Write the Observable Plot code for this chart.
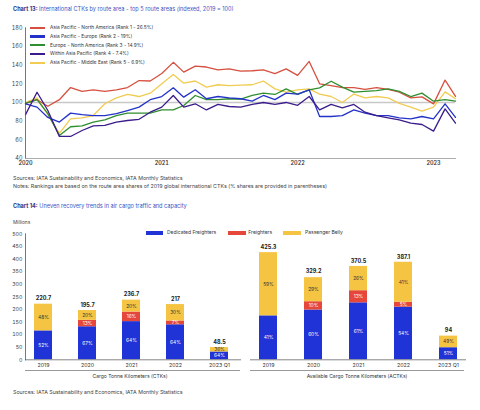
<!DOCTYPE html>
<html><head><meta charset="utf-8">
<script src="https://cdn.jsdelivr.net/npm/d3@7"></script>
<script src="https://cdn.jsdelivr.net/npm/@observablehq/plot@0.6"></script>
<style>
body{margin:0;background:#fff;font-family:Inter,"Noto Sans",sans-serif;}
#root{position:relative;width:480px;height:410px;overflow:hidden;background:#fff;}
.t{position:absolute;white-space:nowrap;line-height:1;}
.abs{position:absolute;}
svg{overflow:visible;}
</style></head><body><div id="root"></div>
<script>
// ---------- Chart 13 data ----------
const routeNames = [
  "Asia Pacific - North America (Rank 1 - 26.5%)",
  "Asia Pacific - Europe (Rank 2 - 19%)",
  "Europe - North America (Rank 3 - 14.9%)",
  "Within Asia Pacific (Rank 4 - 7.4%)",
  "Asia Pacific - Middle East (Rank 5 - 6.9%)"
];
const routeColors = ["#d6503f", "#2332c8", "#2f8e2f", "#3a1c8a", "#f1cc52"];
const months = d3.utcMonth.range(new Date(Date.UTC(2020,0,1)), new Date(Date.UTC(2023,3,1)));
const apNorthAmerica = [99,103,96,103,116,112,113.5,112,113.5,116,123.5,123,131,143,132.5,139,138,135,136,133.5,134,135,131,136,129,144,120,118,116,116,114,116,114,111,105,106,98.5,124,106.5];
const apEurope = [98.6,95,84,79,88.6,87,86,86,88,91.4,95,103,106.4,115.7,105.7,113.6,104,106.4,105,104,101.4,107.5,103,110,109,113.6,85,85,86,92,88.6,86,86,83.6,82.5,85,82.5,98.6,84];
const europeNorthAmerica = [99,103,88,64.6,74,75,79,81.4,86,88.6,88.6,88.6,92,92,96.8,107.5,103,103,104,103.6,107.5,110,108.6,114.6,108.6,113.6,115.7,122.8,116.4,111,112,112.8,114.6,112,106.4,110,101.4,103,101.4];
const withinAsiaPacific = [87,111,91.4,63.6,63.6,70,75,75.4,79,80.7,82,89.6,95,107.5,95,98.6,92,97.9,95.7,95,97.9,100,97.9,100,97,106.4,92,97.9,94.3,97.9,89.6,86,83.6,81.4,77.9,76.4,69.3,93.2,77.9];
const apMiddleEast = [100,105,87,67,82.5,83.5,86,98.6,105,108.6,106.4,110,120,130,120.7,123,116.4,119,118,118.6,119,123,114.6,111,113.6,114.6,109,106.4,100,109,105,106.4,105,99,95,90.7,95,111.4,104];
const yTicks13 = [40,60,80,100,120,140,160,180];

// ---------- Chart 14 data ----------
const years = ["2019","2020","2021","2022","2023 Q1"];
const segNames = ["Dedicated Freighters","Freighters","Passenger Belly"];
const segColors = ["#1f33d6","#e5473a","#f5c443"];
const ctkTotal = [220.7,195.7,236.7,217,48.5];
const ctkDedicated = [52,67,64,64,64];
const ctkFreighters = [0,13,16,7,0];
const ctkBelly = [48,20,20,30,36];
const actkTotal = [425.3,329.2,370.5,387.1,94];
const actkDedicated = [41,60,61,54,51];
const actkFreighters = [0,10,13,5,0];
const actkBelly = [59,29,26,41,49];
const yTicks14 = [0,50,100,150,200,250,300,350,400,450,500];

const root = document.getElementById("root");
function txt(x, y, html, size, color, weight, anchor){
  const d = document.createElement("div");
  d.className = "t";
  d.innerHTML = html;
  d.style.fontSize = size + "px";
  d.style.color = color;
  d.style.fontWeight = weight || 400;
  d.style.top = (y - size*0.55) + "px";
  if (anchor === "middle") { d.style.left = x + "px"; d.style.transform = "translateX(-50%)"; }
  else d.style.left = x + "px";
  root.appendChild(d);
  return d;
}
function box(x, y, w, h, color){
  const d = document.createElement("div");
  d.className = "abs";
  Object.assign(d.style, {left:x+"px", top:y+"px", width:w+"px", height:h+"px", background:color});
  root.appendChild(d);
}
function place(el, x, y){
  el.style.position = "absolute"; el.style.left = x+"px"; el.style.top = y+"px";
  root.appendChild(el);
}

// ---------- Chart 13 ----------
txt(13, 10, '<span style="color:#27348f;font-weight:700">Chart 13:</span> <span style="color:#3a55c4">International CTKs by route area - top 5 route areas (indexed, 2019 = 100)</span>', 5.6, "#3a55c4");

const series = [apNorthAmerica, apEurope, europeNorthAmerica, withinAsiaPacific, apMiddleEast];
const lineData = [];
series.forEach((vals, s) => vals.forEach((v, i) => lineData.push({date: months[i], value: v, route: routeNames[s]})));
const drawOrder = [routeNames[4], routeNames[0], routeNames[2], routeNames[1], routeNames[3]];

const chart13 = Plot.plot({
  width: 470, height: 152,
  marginTop: 7.3, marginLeft: 25, marginRight: 15, marginBottom: 14,
  style: {fontFamily: "Inter, sans-serif", background: "transparent", overflow: "visible"},
  x: {type: "utc", domain: [months[0], months[months.length-1]]},
  y: {domain: [40, 180]},
  color: {domain: routeNames, range: routeColors},
  marks: [
    Plot.ruleY([100], {stroke: "#c8c8c8", strokeWidth: 1.6}),
    ...drawOrder.map(r => Plot.line(lineData.filter(d => d.route === r), {x: "date", y: "value", stroke: "route", strokeWidth: 1.3})),
    Plot.frame({anchor: "left", stroke: "#555", strokeWidth: 0.8}),
    Plot.frame({anchor: "bottom", stroke: "#999", strokeWidth: 0.8}),
    Plot.axisY({ticks: yTicks13, tickSize: 0, tickPadding: 3, fontSize: 5.5, fill: "#444", label: null}),
    Plot.axisX({ticks: d3.utcYear.every(1), tickFormat: d3.utcFormat("%Y"), tickSize: 0, tickPadding: 3, fontSize: 5.5, fill: "#333", fontWeight: 600, label: null})
  ]
});
place(chart13, 0, 20);

// legend 13
const legY = [27.7, 36.4, 45.2, 54, 62.7];
routeNames.forEach((n, i) => {
  box(30, legY[i]-1.2, 15, 2.4, routeColors[i]);
  txt(50, legY[i], n, 4.8, "#333");
});

txt(13, 178.5, "Sources: IATA Sustainability and Economics, IATA Monthly Statistics", 5.3, "#444");
txt(13, 187, "Notes: Rankings are based on the route area shares of 2019 global international CTKs (% shares are provided in parentheses)", 5.3, "#444");

// ---------- Chart 14 ----------
txt(13, 206.7, '<span style="color:#27348f;font-weight:700">Chart 14:</span> <span style="color:#3a55c4">Uneven recovery trends in air cargo traffic and capacity</span>', 5.6, "#3a55c4");
txt(13, 223, "Millions", 4.8, "#444");

function rows(total, dedicated, freighters, belly){
  const out = [];
  years.forEach((y, i) => {
    [[segNames[0], dedicated[i]], [segNames[1], freighters[i]], [segNames[2], belly[i]]].forEach(([s, p]) => {
      if (p > 0) out.push({cat: y, series: s, pct: p, value: total[i] * p / 100});
    });
  });
  return out;
}
function barChart(total, dedicated, freighters, belly, opts){
  const data = rows(total, dedicated, freighters, belly);
  const totals = years.map((y, i) => ({cat: y, total: total[i]}));
  const stackOpts = {x: "cat", y: "value", z: "series", order: segNames};
  return Plot.plot({
    width: opts.width, height: 157,
    marginTop: 5.3, marginBottom: 25.7, marginLeft: opts.ml, marginRight: opts.mr,
    style: {fontFamily: "Inter, sans-serif", background: "transparent", overflow: "visible"},
    x: {domain: years, range: opts.range, paddingInner: 0.6, paddingOuter: 0.3},
    y: {domain: [0, 500]},
    color: {domain: segNames, range: segColors},
    marks: [
      Plot.barY(data, Plot.stackY({...stackOpts, fill: "series"})),
      Plot.text(data, Plot.stackY({...stackOpts, text: d => d.pct + "%", fill: d => d.series === segNames[2] ? "#333" : "#fff", fontSize: 4.8})),
      Plot.text(totals, {x: "cat", y: "total", text: d => String(d.total), dy: -5.5, fontSize: 5.5, fontWeight: 700, fill: "#222"}),
      Plot.frame({anchor: "bottom", stroke: "#777", strokeWidth: 0.9}),
      ...(opts.yAxis ? [
        Plot.frame({anchor: "left", stroke: "#555", strokeWidth: 0.8}),
        Plot.axisY({ticks: yTicks14, tickSize: 0, tickPadding: 3, fontSize: 5.3, fill: "#444", label: null})
      ] : [Plot.axisY({ticks: [], label: null})]),
      Plot.axisX({tickSize: 0, tickPadding: 3.5, fontSize: 5.3, fill: "#333", label: null})
    ]
  });
}
const left = barChart(ctkTotal, ctkDedicated, ctkFreighters, ctkBelly, {width: 245, ml: 25, mr: 5, range: [20.1, 242.3], yAxis: true});
place(left, 0, 228);
const right = barChart(actkTotal, actkDedicated, actkFreighters, actkBelly, {width: 240, ml: 10, mr: 15, range: [5.8, 230.8], yAxis: false});
place(right, 240, 228);

// legend 14
const lg = [[145.7, 167], [228.3, 248.3], [283, 305]];
segNames.forEach((n, i) => {
  box(lg[i][0], 230.5, 17.6, 4.4, segColors[i]);
  txt(lg[i][1], 232.7, n, 5, "#333");
});

// secondary lines and axis titles
box(25, 370.2, 215, 0.9, "#999");
box(250, 370.2, 214, 0.9, "#999");
txt(130, 376.3, "Cargo Tonne Kilometers (CTKs)", 5, "#333", 400, "middle");
txt(357, 376.3, "Available Cargo Tonne Kilometers (ACTKs)", 5, "#333", 400, "middle");

txt(13, 392.7, "Sources: IATA Sustainability and Economics, IATA Monthly Statistics", 5.3, "#444");
</script></body></html>
